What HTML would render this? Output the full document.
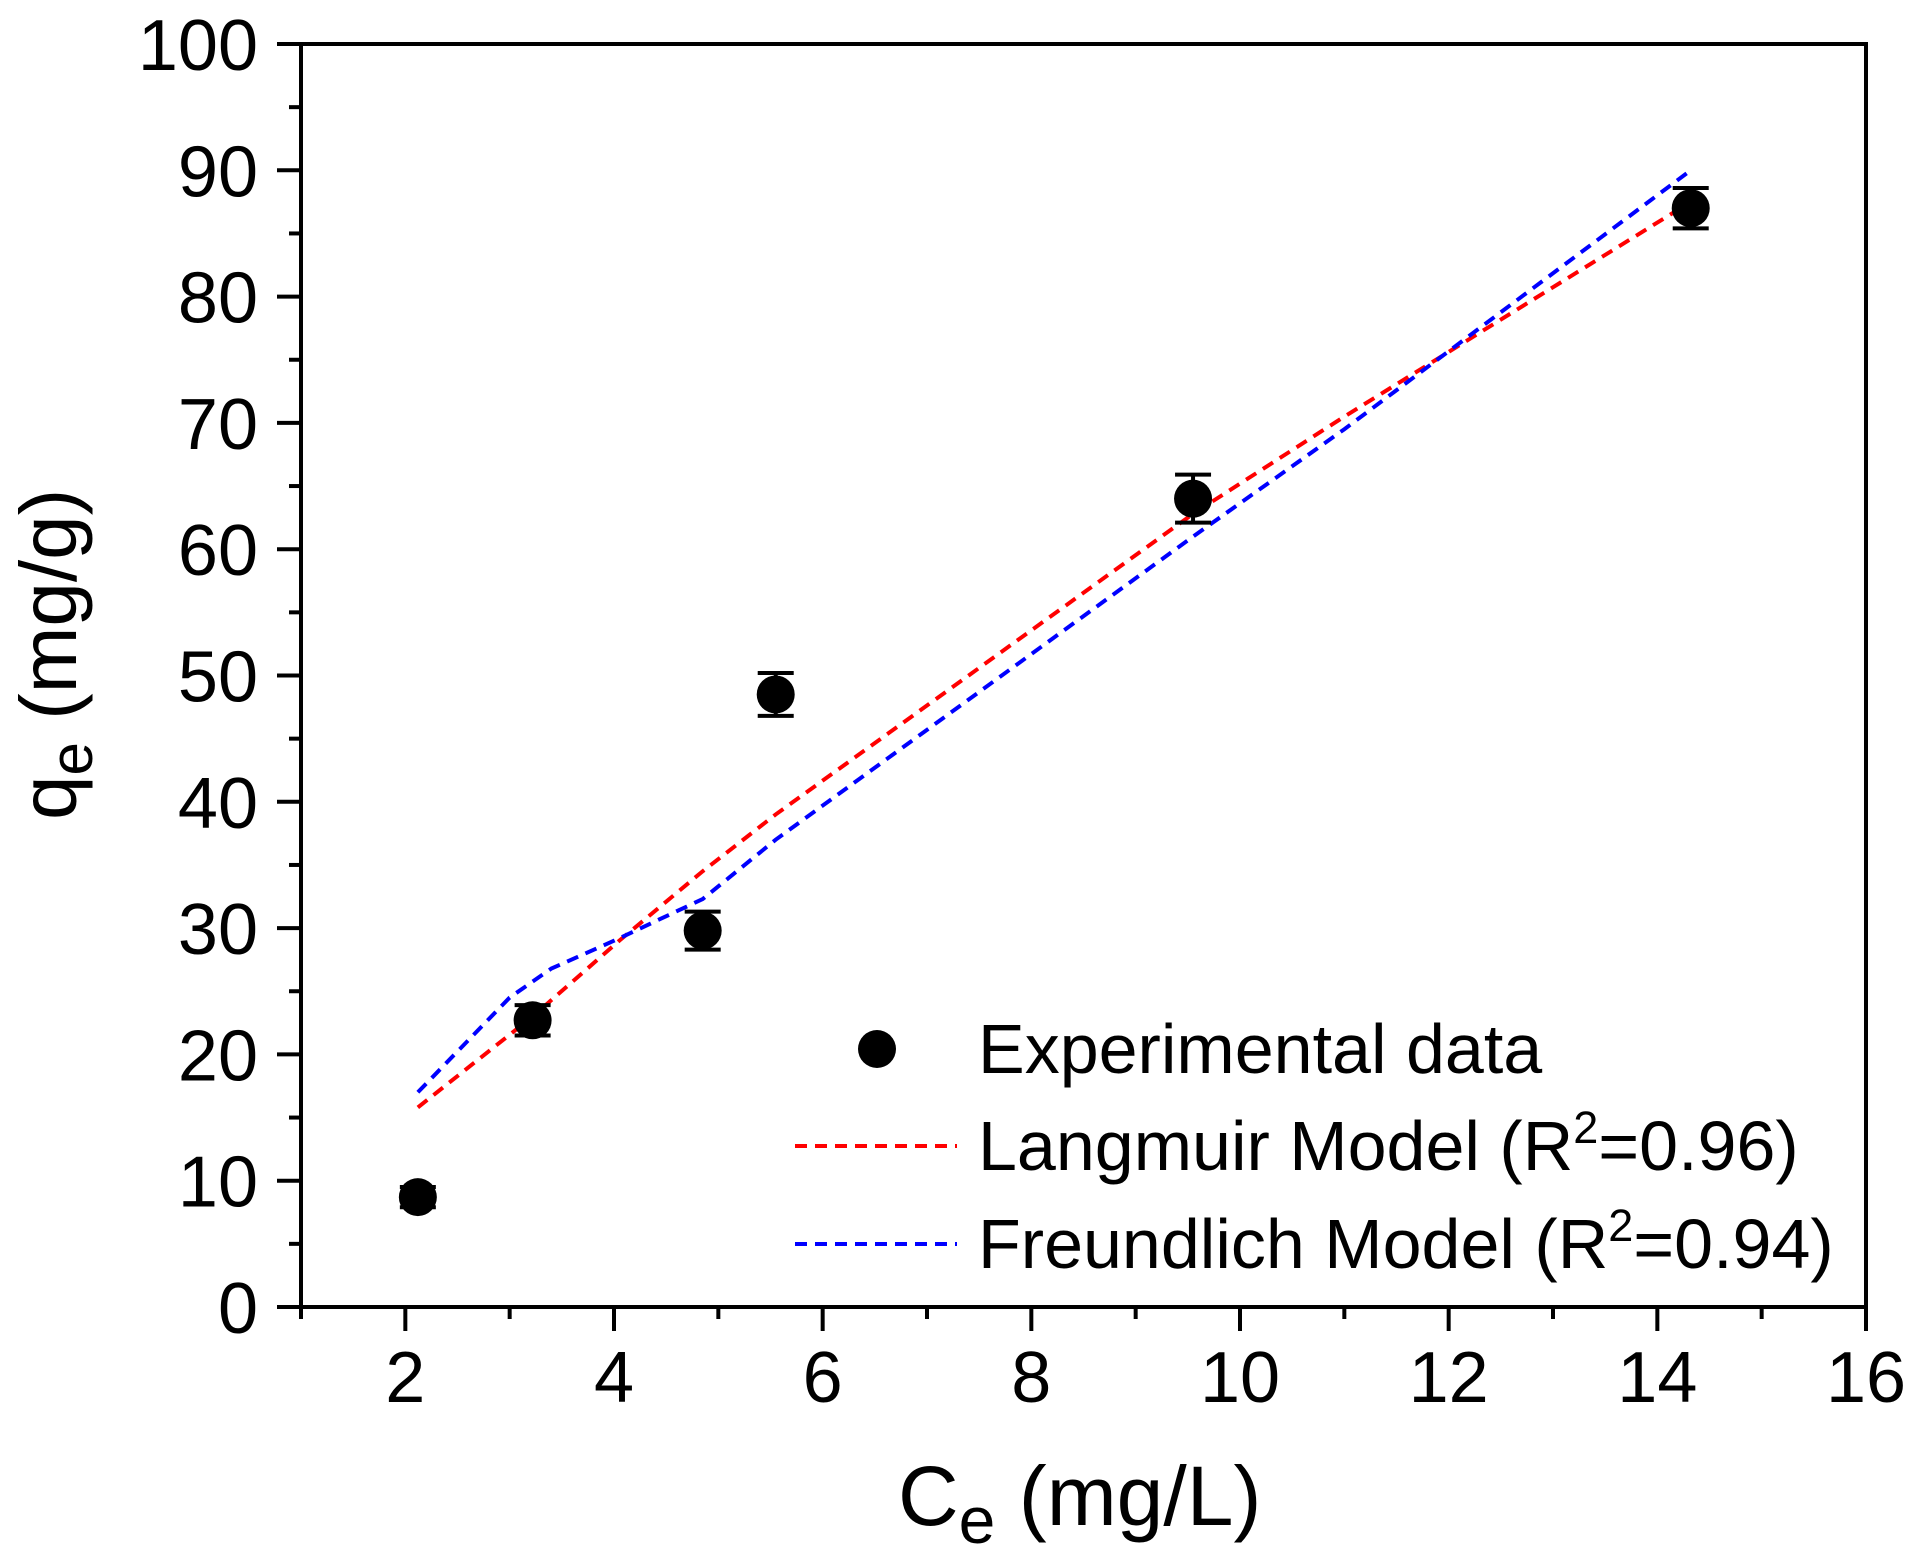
<!DOCTYPE html>
<html><head><meta charset="utf-8"><style>
html,body{margin:0;padding:0;background:#fff;}
svg{display:block;font-family:"Liberation Sans",Arial,sans-serif;}
</style></head><body>
<svg id="chart" width="1912" height="1566" viewBox="0 0 1912 1566">
<g id="plot"></g>
</svg>
<script>
const xTicks = [2,4,6,8,10,12,14,16];
const yTicks = [0,10,20,30,40,50,60,70,80,90,100];
const expX = [2.12, 3.22, 4.85, 5.55, 9.55, 14.32];
const expY = [8.7, 22.7, 29.8, 48.5, 64.0, 87.0];
const expErr = [0.8, 1.2, 1.5, 1.7, 1.9, 1.6];
const langX = [2.12, 3.22, 4.05, 4.85, 5.55, 9.55, 11.0, 14.32];
const langY = [15.8, 23.0, 29.0, 34.5, 39.0, 62.8, 70.5, 87.5];
const freuX = [2.12, 3.0, 3.4, 4.0, 4.85, 5.55, 9.55, 11.0, 14.32];
const freuY = [17.0, 24.5, 26.8, 29.0, 32.3, 37.0, 61.0, 69.5, 90.0];

const NS='http://www.w3.org/2000/svg';
const L=301,R=1866,T=44,B=1307;
const X0=1,X1=16,Y0=0,Y1=100;
function sx(v){return L+(v-X0)/(X1-X0)*(R-L);}
function sy(v){return B-(v-Y0)/(Y1-Y0)*(B-T);}
const g=document.getElementById('plot');
function mk(tag,attrs,parent){const e=document.createElementNS(NS,tag);for(const k in attrs)e.setAttribute(k,attrs[k]);(parent||g).appendChild(e);return e;}

const frame=mk('rect',{x:L,y:T,width:R-L,height:B-T,fill:'none',stroke:'#000','stroke-width':4});



for(let v=1;v<=16;v++){
  const major=xTicks.includes(v);
  const t=mk('line',{x1:sx(v),x2:sx(v),y1:B,y2:B+(major?24:12),stroke:'#000','stroke-width':4});
  
  
}
xTicks.forEach(v=>{
  const t=mk('text',{x:sx(v),y:1402,'text-anchor':'middle','font-size':72});
  t.textContent=v;
  
  
});
for(let v=0;v<=100;v+=5){
  const major=v%10===0;
  const t=mk('line',{x1:L,x2:L-(major?24:12),y1:sy(v),y2:sy(v),stroke:'#000','stroke-width':4});
  
  
}
yTicks.forEach(v=>{
  const t=mk('text',{x:258,y:sy(v)+26,'text-anchor':'end','font-size':72});
  t.textContent=v;
  
  
});

function line(xs,ys,color,name){
  const p=mk('polyline',{points:xs.map((x,i)=>sx(x)+','+sy(ys[i])).join(' '),fill:'none',stroke:color,'stroke-width':4,'stroke-dasharray':'12 8'});
  
  
}
line(langX,langY,'#ff0000','langmuir-line');
line(freuX,freuY,'#0000ff','freundlich-line');

expX.forEach((x,i)=>{
  const cx=sx(x),y=expY[i],e=expErr[i];
  const eb=mk('path',{d:`M${cx},${sy(y+e)}V${sy(y-e)}M${cx-18},${sy(y+e)}H${cx+18}M${cx-18},${sy(y-e)}H${cx+18}`,stroke:'#000','stroke-width':4,fill:'none'});
  
  
  const c=mk('circle',{cx:cx,cy:sy(y),r:19,fill:'#000'});
  
  
});

const lg=mk('g',{});


const lc=mk('circle',{cx:877,cy:1049,r:19,fill:'#000'},lg);


const l1=mk('line',{x1:795,x2:957,y1:1146,y2:1146,stroke:'#ff0000','stroke-width':4,'stroke-dasharray':'12 8'},lg);


const l2=mk('line',{x1:795,x2:957,y1:1244,y2:1244,stroke:'#0000ff','stroke-width':4,'stroke-dasharray':'12 8'},lg);


</script>
<script>
const svg=document.getElementById('chart');
function txt(html,attrs,name){
  const t=document.createElementNS('http://www.w3.org/2000/svg','text');
  for(const k in attrs)t.setAttribute(k,attrs[k]);
  t.innerHTML=html;
  
  
  svg.appendChild(t);
}
txt('Experimental data',{x:978,y:1073,'font-size':70},'legend-label-experimental');
txt('Langmuir Model (R<tspan dy="-27" font-size="45">2</tspan><tspan dy="27">=0.96)</tspan>',{x:978,y:1170,'font-size':70},'legend-label-langmuir');
txt('Freundlich Model (R<tspan dy="-27" font-size="45">2</tspan><tspan dy="27">=0.94)</tspan>',{x:978,y:1268,'font-size':70},'legend-label-freundlich');
txt('C<tspan dy="18" font-size="66">e</tspan><tspan dy="-18"> (mg/L)</tspan>',{x:898,y:1525,'font-size':84},'x-axis-title');
txt('q<tspan dy="16" font-size="60">e</tspan><tspan dy="-16"> (mg/g)</tspan>',{x:0,y:0,'font-size':80,transform:'translate(76,820) rotate(-90)'},'y-axis-title');
</script>
</body></html>
